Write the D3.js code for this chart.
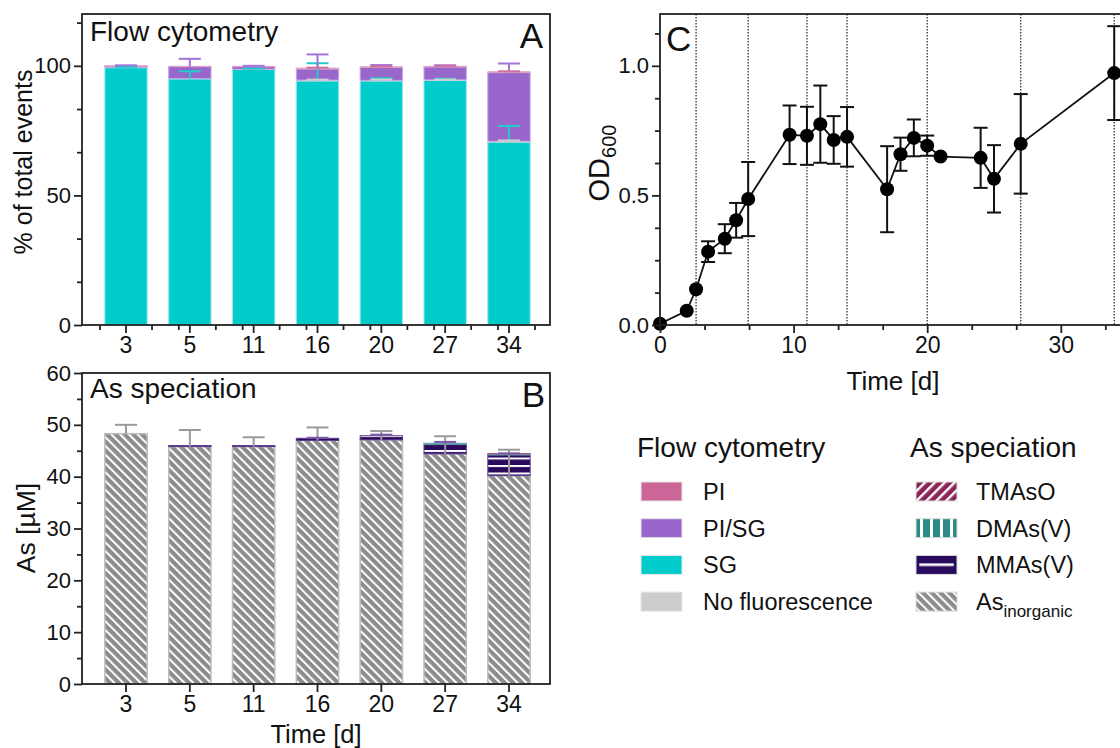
<!DOCTYPE html>
<html>
<head>
<meta charset="utf-8">
<script src="https://cdn.jsdelivr.net/npm/d3@7"></script>
<style>
  body { margin: 0; background: #fff; }
  svg text { font-family: "Liberation Sans", Arial, Helvetica, sans-serif; fill: #111; }
</style>
</head>
<body>
<div id="chart"></div>
<script>
// sampling days for the bar panels
var days = ["3", "5", "11", "16", "20", "27", "34"];

// flow cytometry (% of total events), stacked bottom -> top
var sg = [99.3, 95.0, 98.6, 94.2, 94.2, 94.4, 70.6];
var noFluor = [0.1, 0.1, 0.1, 0.3, 0.2, 0.2, 0.3];
var piSg = [0.5, 4.6, 1.0, 4.3, 5.0, 5.0, 26.5];
var pi = [0.1, 0.1, 0.1, 0.3, 0.2, 0.2, 0.3];
var sgErr = [0.3, 2.9, 0.3, 6.8, 1.0, 0.6, 6.2];
var noFluorErr = [0, 0, 0, 0.2, 0.3, 0.1, 0.3];
var piSgErr = [0.3, 3.0, 0.3, 5.6, 0.9, 0.6, 3.5];
var piErr = [0, 0, 0, 0.2, 0.2, 0.2, 0.2];

// As speciation (µM), stacked bottom -> top
var asInorganic = [48.3, 45.8, 45.8, 47.0, 47.1, 44.4, 40.2];
var mmas = [0, 0.2, 0.2, 0.4, 0.8, 1.9, 4.0];
var dmas = [0, 0, 0, 0, 0, 0.15, 0.2];
var tmaso = [0, 0, 0, 0, 0, 0, 0.05];
var asInorganicErr = [1.7, 3.2, 1.8, 2.5, 1.7, 3.4, 5.0];
var mmasErr = [0, 0, 0, 0.1, 0.2, 0.4, 0.3];

// OD600 growth curve
var odDays = [0, 2, 2.7, 3.6, 4.85, 5.7, 6.6, 9.7, 11, 12, 13, 14, 17, 18, 19, 20, 21, 24, 25, 27, 34];
var odMean = [0.005, 0.055, 0.138, 0.283, 0.333, 0.404, 0.486, 0.734, 0.730, 0.775, 0.714, 0.726, 0.524, 0.659, 0.722, 0.692, 0.650, 0.645, 0.564, 0.699, 0.972];
var odSd = [0, 0, 0, 0.04, 0.056, 0.067, 0.143, 0.113, 0.112, 0.149, 0.092, 0.115, 0.166, 0.064, 0.071, 0.039, 0, 0.116, 0.13, 0.192, 0.181];
var sampleDays = [2.7, 6.6, 11, 14, 20, 27, 34];

// legends
var flowLabels = ["PI", "PI/SG", "SG", "No fluorescence"];
var flowColors = ["#cc6699", "#9966cc", "#00cccc", "#cccccc"];
var asLabels = ["TMAsO", "DMAs(V)", "MMAs(V)", "As"];

var svg = d3.select("#chart")
  .append("svg")
  .attr("width", 1120)
  .attr("height", 748);

var defs = svg.append("defs");

// hatch patterns for the As species
function hatch(id, base, size, stripe, angle) {
  var p = defs.append("pattern")
    .attr("id", id)
    .attr("patternUnits", "userSpaceOnUse")
    .attr("width", size)
    .attr("height", size)
    .attr("patternTransform", "rotate(" + angle + ")");
  p.append("rect").attr("width", size).attr("height", size).attr("fill", base);
  p.append("rect").attr("width", stripe).attr("height", size).attr("fill", "#fff");
}
hatch("pInorg", "#8c8c8c", 6.2, 2, -45);
hatch("pMma", "#2a0a5c", 7.5, 2, 90);
hatch("pDma", "#2e8a86", 10, 3, 0);
hatch("pTma", "#8a2456", 7, 2.4, 45);

// legend swatch for MMAs: one white bar across the middle
var lm = defs.append("pattern")
  .attr("id", "lMma")
  .attr("patternUnits", "objectBoundingBox")
  .attr("patternContentUnits", "objectBoundingBox")
  .attr("width", 1).attr("height", 1);
lm.append("rect").attr("width", 1).attr("height", 1).attr("fill", "#2a0a5c");
lm.append("rect").attr("x", 0.08).attr("y", 0.42).attr("width", 0.84).attr("height", 0.14).attr("fill", "#fff");

function styleAxis(g, size) {
  g.select(".domain").remove();
  g.attr("font-size", size || 22)
    .attr("font-family", "Liberation Sans, Arial, sans-serif");
  g.selectAll("line").attr("stroke", "#222").attr("stroke-width", 1.8);
  g.selectAll("text").attr("fill", "#111");
}

// ---------- panel A ----------
var xA = d3.scaleBand()
  .domain(days)
  .range([94.1, 540.9])
  .paddingInner(0.337)
  .paddingOuter(0.1685);
var yA = d3.scaleLinear().domain([0, 120]).range([325, 14]);

var flowRows = days.map(function (d, i) {
  return { day: d, sg: sg[i], nf: noFluor[i], pisg: piSg[i], pi: pi[i] };
});
var flowKeys = ["sg", "nf", "pisg", "pi"];
var flowFill = { sg: "#00cccc", nf: "#cccccc", pisg: "#9966cc", pi: "#cc6699" };
var flowEdge = { sg: "#9be6e6", nf: "#dddddd", pisg: "#c4a6e8", pi: "#e0a0c0" };
var flowErrCol = { sg: "#22cccc", nf: "#cfcfcf", pisg: "#a273dc", pi: "#d0709c" };
var flowErr = { sg: sgErr, nf: noFluorErr, pisg: piSgErr, pi: piErr };
var flowStack = d3.stack().keys(flowKeys)(flowRows);

var gA = svg.append("g");
gA.selectAll("g.layer")
  .data(flowStack)
  .enter()
  .append("g")
  .attr("class", "layer")
  .each(function (layer) {
    d3.select(this).selectAll("rect")
      .data(layer)
      .enter()
      .append("rect")
      .attr("x", d => xA(d.data.day))
      .attr("width", xA.bandwidth())
      .attr("y", d => yA(d[1]))
      .attr("height", d => Math.max(0, yA(d[0]) - yA(d[1])))
      .attr("fill", flowFill[layer.key])
      .attr("stroke", flowEdge[layer.key])
      .attr("stroke-width", 1);
  });

// error bars (upper only)
flowStack.forEach(function (layer) {
  layer.forEach(function (d, i) {
    var e = flowErr[layer.key][i];
    if (e <= 0) return;
    var cx = xA(d.data.day) + xA.bandwidth() / 2;
    gA.append("line")
      .attr("x1", cx).attr("x2", cx)
      .attr("y1", yA(d[1])).attr("y2", yA(d[1] + e))
      .attr("stroke", flowErrCol[layer.key]).attr("stroke-width", 2);
    gA.append("line")
      .attr("x1", cx - 11).attr("x2", cx + 11)
      .attr("y1", yA(d[1] + e)).attr("y2", yA(d[1] + e))
      .attr("stroke", flowErrCol[layer.key]).attr("stroke-width", 2);
  });
});

svg.append("rect")
  .attr("x", 82).attr("y", 14).attr("width", 468).attr("height", 311)
  .attr("fill", "none").attr("stroke", "#222").attr("stroke-width", 1.8);

svg.append("g")
  .attr("transform", "translate(82,0)")
  .call(d3.axisLeft(yA).tickValues([0, 50, 100]).tickSize(8).tickPadding(3))
  .call(styleAxis);
svg.append("g")
  .attr("transform", "translate(82,0)")
  .call(d3.axisLeft(yA).tickValues([50 / 3, 100 / 3, 200 / 3, 250 / 3, 350 / 3]).tickSize(5).tickFormat(""))
  .call(styleAxis);
svg.append("g")
  .attr("transform", "translate(0,325)")
  .call(d3.axisBottom(xA).tickSize(8).tickPadding(4))
  .call(g => styleAxis(g, 23));

// minor ticks on the category axis
var minorA = [];
days.forEach(function (d, i) {
  var c = xA(d) + xA.bandwidth() / 2;
  minorA.push(c + 26);
  minorA.push(i === 0 ? c - 26 : c - 11);
});
svg.append("g").selectAll("line")
  .data(minorA)
  .enter()
  .append("line")
  .attr("x1", d => d).attr("x2", d => d)
  .attr("y1", 325).attr("y2", 330)
  .attr("stroke", "#222").attr("stroke-width", 1.8);

svg.append("text")
  .attr("x", 90).attr("y", 41)
  .attr("font-size", 28)
  .text("Flow cytometry");
svg.append("text")
  .attr("x", 543).attr("y", 48)
  .attr("font-size", 35)
  .attr("text-anchor", "end")
  .text("A");
svg.append("text")
  .attr("transform", "translate(32,162) rotate(-90)")
  .attr("text-anchor", "middle")
  .attr("font-size", 25)
  .text("% of total events");

// ---------- panel B ----------
var yB = d3.scaleLinear().domain([0, 60]).range([684, 373]);
var asRows = days.map(function (d, i) {
  return { day: d, inorg: asInorganic[i], mma: mmas[i], dma: dmas[i], tma: tmaso[i] };
});
var asKeys = ["inorg", "mma", "dma", "tma"];
var asFill = { inorg: "url(#pInorg)", mma: "url(#pMma)", dma: "url(#pDma)", tma: "url(#pTma)" };
var asEdge = { inorg: "#bdbdbd", mma: "#5a3a8c", dma: "#5fb0ac", tma: "#b0507e" };
var asStack = d3.stack().keys(asKeys)(asRows);

var gB = svg.append("g");
gB.selectAll("g.layer")
  .data(asStack)
  .enter()
  .append("g")
  .attr("class", "layer")
  .each(function (layer) {
    d3.select(this).selectAll("rect")
      .data(layer.filter(d => d[1] - d[0] > 0))
      .enter()
      .append("rect")
      .attr("x", d => xA(d.data.day))
      .attr("width", xA.bandwidth())
      .attr("y", d => yB(d[1]))
      .attr("height", d => Math.max(0, yB(d[0]) - yB(d[1])))
      .attr("fill", asFill[layer.key])
      .attr("stroke", asEdge[layer.key])
      .attr("stroke-width", layer.key === "inorg" ? 1.5 : 1);
  });

var asErr = [
  { key: "inorg", err: asInorganicErr, col: "#9a9a9a" },
  { key: "mma", err: mmasErr, col: "#7a5aa8" }
];
asErr.forEach(function (s) {
  var layer = asStack[asKeys.indexOf(s.key)];
  layer.forEach(function (d, i) {
    var e = s.err[i];
    if (e <= 0) return;
    var cx = xA(d.data.day) + xA.bandwidth() / 2;
    gB.append("line")
      .attr("x1", cx).attr("x2", cx)
      .attr("y1", yB(d[1])).attr("y2", yB(d[1] + e))
      .attr("stroke", s.col).attr("stroke-width", 2);
    gB.append("line")
      .attr("x1", cx - 11).attr("x2", cx + 11)
      .attr("y1", yB(d[1] + e)).attr("y2", yB(d[1] + e))
      .attr("stroke", s.col).attr("stroke-width", 2);
  });
});

svg.append("rect")
  .attr("x", 82).attr("y", 373).attr("width", 468).attr("height", 311)
  .attr("fill", "none").attr("stroke", "#222").attr("stroke-width", 1.8);

svg.append("g")
  .attr("transform", "translate(82,0)")
  .call(d3.axisLeft(yB).tickValues(d3.range(0, 61, 10)).tickSize(8).tickPadding(3))
  .call(styleAxis);
svg.append("g")
  .attr("transform", "translate(82,0)")
  .call(d3.axisLeft(yB).tickValues(d3.range(5, 60, 10)).tickSize(5).tickFormat(""))
  .call(styleAxis);
svg.append("g")
  .attr("transform", "translate(0,684)")
  .call(d3.axisBottom(xA).tickSize(8).tickPadding(4))
  .call(g => styleAxis(g, 23));

svg.append("text")
  .attr("x", 90).attr("y", 398)
  .attr("font-size", 28)
  .text("As speciation");
svg.append("text")
  .attr("x", 545).attr("y", 407)
  .attr("font-size", 35)
  .attr("text-anchor", "end")
  .text("B");
svg.append("text")
  .attr("transform", "translate(35,528) rotate(-90)")
  .attr("text-anchor", "middle")
  .attr("font-size", 26.5)
  .text("As [µM]");
svg.append("text")
  .attr("x", 316).attr("y", 743)
  .attr("text-anchor", "middle")
  .attr("font-size", 25.5)
  .text("Time [d]");

// ---------- panel C ----------
var xC = d3.scaleLinear().domain([0, 35]).range([660, 660 + 35 * 13.36]);
var yC = d3.scaleLinear().domain([0, 1.2]).range([325, 14]);

svg.append("g").selectAll("line")
  .data(sampleDays)
  .enter()
  .append("line")
  .attr("x1", d => xC(d)).attr("x2", d => xC(d))
  .attr("y1", 14).attr("y2", 325)
  .attr("stroke", "#222")
  .attr("stroke-width", 1.2)
  .attr("stroke-dasharray", "1.5,1.5");

var odRows = odDays.map(function (d, i) {
  return { t: d, m: odMean[i], s: odSd[i] };
});

var gC = svg.append("g");
gC.selectAll("g.eb")
  .data(odRows.filter(d => d.s > 0))
  .enter()
  .append("g")
  .attr("class", "eb")
  .each(function (d) {
    var g = d3.select(this);
    var cx = xC(d.t);
    g.append("line").attr("x1", cx).attr("x2", cx)
      .attr("y1", yC(d.m - d.s)).attr("y2", yC(d.m + d.s));
    g.append("line").attr("x1", cx - 7).attr("x2", cx + 7)
      .attr("y1", yC(d.m - d.s)).attr("y2", yC(d.m - d.s));
    g.append("line").attr("x1", cx - 7).attr("x2", cx + 7)
      .attr("y1", yC(d.m + d.s)).attr("y2", yC(d.m + d.s));
    g.selectAll("line").attr("stroke", "#111").attr("stroke-width", 2);
  });

gC.append("path")
  .datum(odRows)
  .attr("fill", "none")
  .attr("stroke", "#111")
  .attr("stroke-width", 1.8)
  .attr("d", d3.line().x(d => xC(d.t)).y(d => yC(d.m)));

gC.selectAll("circle")
  .data(odRows)
  .enter()
  .append("circle")
  .attr("cx", d => xC(d.t))
  .attr("cy", d => yC(d.m))
  .attr("r", 7)
  .attr("fill", "#000");

// frame: top and left (right edge runs off the page)
svg.append("rect")
  .attr("x", 660).attr("y", 14).attr("width", xC(35) - 660).attr("height", 311)
  .attr("fill", "none").attr("stroke", "#222").attr("stroke-width", 1.8);

svg.append("g")
  .attr("transform", "translate(660,0)")
  .call(d3.axisLeft(yC).tickValues([0, 0.5, 1.0]).tickFormat(d3.format(".1f")).tickSize(8).tickPadding(3))
  .call(styleAxis);
svg.append("g")
  .attr("transform", "translate(660,0)")
  .call(d3.axisLeft(yC).tickValues([0.125, 0.25, 0.375, 0.625, 0.75, 0.875, 1.125]).tickSize(5).tickFormat(""))
  .call(styleAxis);
svg.append("g")
  .attr("transform", "translate(0,325)")
  .call(d3.axisBottom(xC).tickValues([0, 10, 20, 30]).tickSize(8).tickPadding(4))
  .call(g => styleAxis(g, 23));
svg.append("g")
  .attr("transform", "translate(0,325)")
  .call(d3.axisBottom(xC).tickValues([10 / 3, 20 / 3, 40 / 3, 50 / 3, 70 / 3, 80 / 3, 100 / 3]).tickSize(5).tickFormat(""))
  .call(styleAxis);

svg.append("text")
  .attr("x", 666).attr("y", 51)
  .attr("font-size", 35)
  .text("C");
var odLabel = svg.append("text")
  .attr("transform", "translate(609,163) rotate(-90)")
  .attr("text-anchor", "middle")
  .attr("font-size", 29);
odLabel.append("tspan").text("OD");
odLabel.append("tspan").attr("font-size", 20).attr("dy", 7).text("600");
svg.append("text")
  .attr("x", 893).attr("y", 390)
  .attr("text-anchor", "middle")
  .attr("font-size", 26)
  .text("Time [d]");

// ---------- legends ----------
var legFlow = svg.append("g");
legFlow.append("text")
  .attr("x", 637).attr("y", 457)
  .attr("font-size", 28)
  .text("Flow cytometry");
legFlow.selectAll("rect")
  .data(flowLabels)
  .enter()
  .append("rect")
  .attr("x", 641)
  .attr("y", (d, i) => 482 + i * 36.7)
  .attr("width", 41)
  .attr("height", 19)
  .attr("fill", (d, i) => flowColors[i])
  .attr("stroke", "#e6e6e6")
  .attr("stroke-width", 1);
legFlow.selectAll("text.lab")
  .data(flowLabels)
  .enter()
  .append("text")
  .attr("class", "lab")
  .attr("x", 703)
  .attr("y", (d, i) => 500 + i * 36.7)
  .attr("font-size", 23.5)
  .text(d => d);

var asLegFill = ["url(#pTma)", "url(#pDma)", "url(#lMma)", "url(#pInorg)"];
var legAs = svg.append("g");
legAs.append("text")
  .attr("x", 910).attr("y", 457)
  .attr("font-size", 28)
  .text("As speciation");
legAs.selectAll("rect")
  .data(asLabels)
  .enter()
  .append("rect")
  .attr("x", 916)
  .attr("y", (d, i) => 482 + i * 36.7)
  .attr("width", 41)
  .attr("height", 19)
  .attr("fill", (d, i) => asLegFill[i])
  .attr("stroke", "#dddddd")
  .attr("stroke-width", 1);
var asLabText = legAs.selectAll("text.lab")
  .data(asLabels)
  .enter()
  .append("text")
  .attr("class", "lab")
  .attr("x", 976)
  .attr("y", (d, i) => 500 + i * 36.7)
  .attr("font-size", 23.5)
  .text(d => d);
asLabText.filter((d, i) => i === 3)
  .append("tspan")
  .attr("font-size", 17)
  .attr("dy", 7)
  .text("inorganic");
</script>
</body>
</html>
